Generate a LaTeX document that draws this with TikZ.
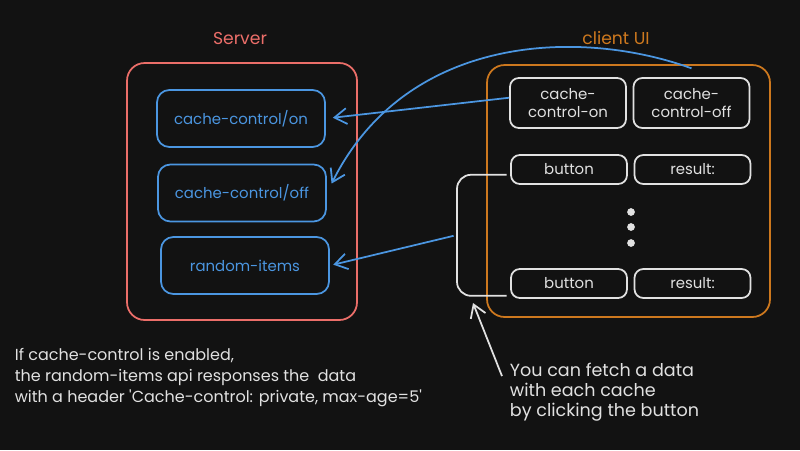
\documentclass[tikz,border=0pt]{standalone}
\usepackage{fontspec}
\setmainfont{Poppins}
\usetikzlibrary{arrows.meta}
\definecolor{bgdark}{RGB}{18,18,18}
\definecolor{srvred}{RGB}{235,110,105}
\definecolor{apiblue}{RGB}{75,150,225}
\definecolor{uiorange}{RGB}{205,120,30}
\definecolor{chalk}{RGB}{225,225,225}

\begin{document}
\begin{tikzpicture}[x=0.02cm,y=-0.02cm,line width=1pt,
   every node/.style={font=\fontsize{8.5}{10.3}\selectfont},
   frame/.style={draw,rounded corners=10pt,inner sep=0pt},
   api/.style={frame,draw=apiblue,text=apiblue,rounded corners=7pt,minimum width=3.36cm,minimum height=1.14cm},
   uibox/.style={frame,draw=chalk,text=chalk,rounded corners=5pt,minimum width=2.32cm,align=center},
   wire/.style={draw=apiblue,-{Straight Barb[length=7pt,width=9pt]}},
   pointer/.style={draw=chalk,-{Straight Barb[length=7pt,width=9pt]}},
   caption/.style={font=\fontsize{9.8}{12}\selectfont},
   note/.style={text=chalk,align=left,anchor=north west,inner sep=0pt}]
\useasboundingbox (0,0) rectangle (800,450);
\fill[bgdark] (0,0) rectangle (800,450);

\node[caption,text=srvred] (srvlabel) at (240,38) {Server};
\node[frame,draw=srvred,minimum width=4.6cm,minimum height=5.14cm] (server) at (242,191.5) {};
\node[api] (on) at (241,118.5) {cache-control/on};
\node[api] (off) at (242,193) {cache-control/off};
\node[api] (rand) at (245,265.5) {random-items};

\node[caption,text=uiorange] (uilabel) at (616,38) {client UI};
\node[frame,draw=uiorange,minimum width=5.66cm,minimum height=5.04cm] (client) at (628.5,191) {};
\node[uibox,minimum height=1cm] (onbtn) at (568,103) {cache-\\control-on};
\node[uibox,minimum height=1cm] (offbtn) at (691.5,103) {cache-\\control-off};
\node[uibox,minimum height=0.58cm] (btnA) at (569,169.5) {button};
\node[uibox,minimum height=0.58cm] (resA) at (692.5,169.5) {result:};
\node[uibox,minimum height=0.58cm] (btnB) at (569,283.5) {button};
\node[uibox,minimum height=0.58cm] (resB) at (692.5,283.5) {result:};
\foreach \y in {212,227,243}
   \fill[chalk] (631,\y) circle (2.2pt);

\node[note,font=\fontsize{9.1}{12.2}\selectfont] (hint) at (14,347)
   {If cache-control is enabled,\\the random-items api responses the\ \ data\\with a header \textquotesingle Cache-control: private, max-age=5\textquotesingle};
\node[note,font=\fontsize{10}{11.4}\selectfont] (howto) at (509,362)
   {You can fetch a data\\with each cache\\by clicking the button};

\coordinate (bracket) at (457,235);
\coordinate (bracketfoot) at (473,303);
\draw[wire,shorten >=4pt] ([yshift=3pt]onbtn.west) -- (on.east);
\draw[wire,shorten >=6pt] ([yshift=5pt]offbtn.north) .. controls +(-110,-40) and +(80,-160) .. (off.east);
\draw[wire,shorten <=2pt,shorten >=2pt] (bracket) -- (rand.east);
\draw[chalk,rounded corners=8pt,shorten <=2pt,shorten >=2pt] ([yshift=-3pt]btnA.west) -| (bracket) |- ([yshift=-7pt]btnB.west);
\draw[pointer] ([xshift=-4pt,yshift=-8pt]howto.north west) -- (bracketfoot);
\end{tikzpicture}
\end{document}
